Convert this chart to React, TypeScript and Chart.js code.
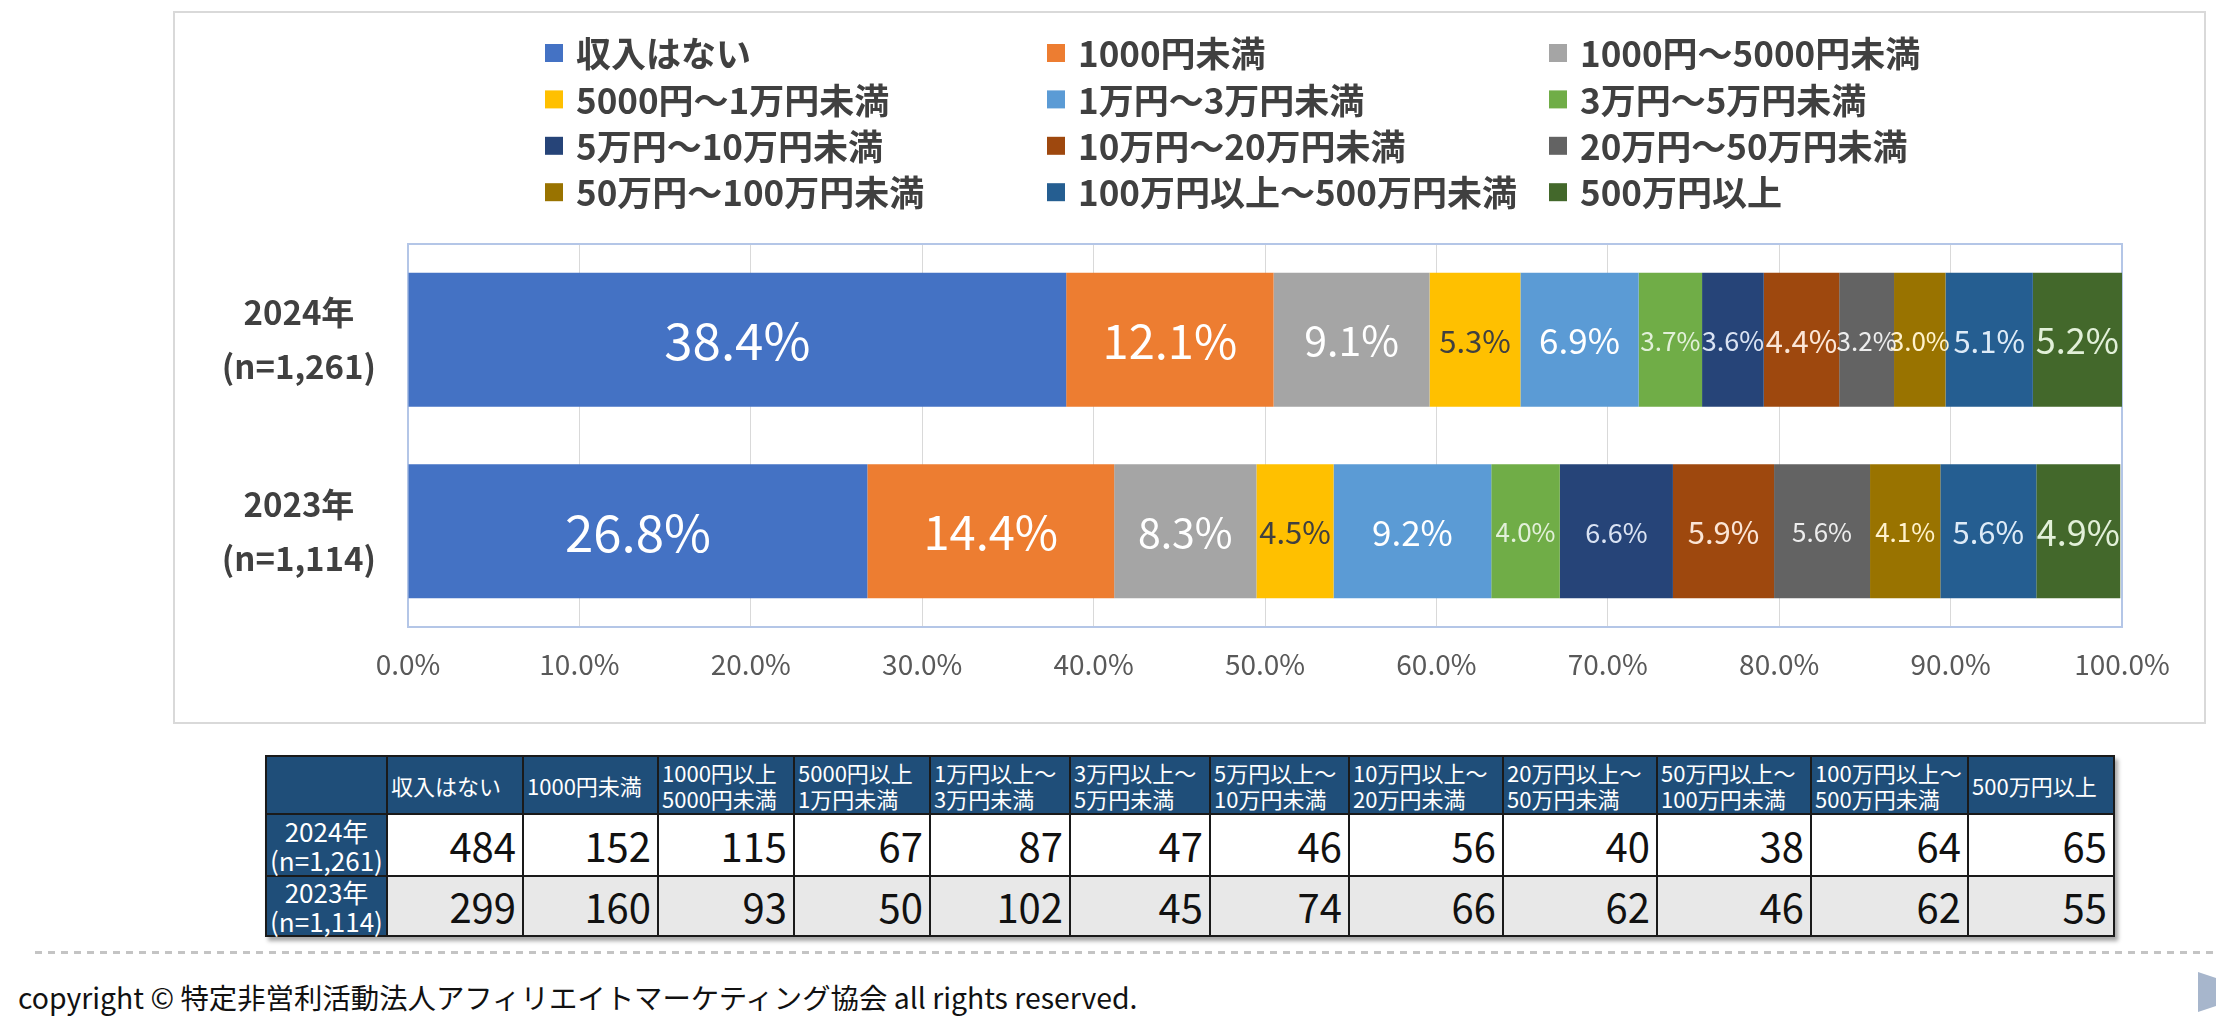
import React, { useEffect, useRef } from 'react';
import { Chart, registerables } from 'chart.js';

Chart.register(...registerables);

// ---------- data ----------
const yearLabels: string[][] = [
  ['2024年', '(n=1,261)'],
  ['2023年', '(n=1,114)'],
];

const seriesNames: string[] = [
  '収入はない',
  '1000円未満',
  '1000円～5000円未満',
  '5000円～1万円未満',
  '1万円～3万円未満',
  '3万円～5万円未満',
  '5万円～10万円未満',
  '10万円～20万円未満',
  '20万円～50万円未満',
  '50万円～100万円未満',
  '100万円以上～500万円未満',
  '500万円以上',
];

const share2024: number[] = [38.4, 12.1, 9.1, 5.3, 6.9, 3.7, 3.6, 4.4, 3.2, 3.0, 5.1, 5.2];
const share2023: number[] = [26.8, 14.4, 8.3, 4.5, 9.2, 4.0, 6.6, 5.9, 5.6, 4.1, 5.6, 4.9];

const xTickValues: number[] = [0, 10, 20, 30, 40, 50, 60, 70, 80, 90, 100];

const tableHeaders: string[][] = [
  ['収入はない'],
  ['1000円未満'],
  ['1000円以上', '5000円未満'],
  ['5000円以上', '1万円未満'],
  ['1万円以上～', '3万円未満'],
  ['3万円以上～', '5万円未満'],
  ['5万円以上～', '10万円未満'],
  ['10万円以上～', '20万円未満'],
  ['20万円以上～', '50万円未満'],
  ['50万円以上～', '100万円未満'],
  ['100万円以上～', '500万円未満'],
  ['500万円以上'],
];
const counts2024: number[] = [484, 152, 115, 67, 87, 47, 46, 56, 40, 38, 64, 65];
const counts2023: number[] = [299, 160, 93, 50, 102, 45, 74, 66, 62, 46, 62, 55];

const copyrightText = 'copyright © 特定非営利活動法人アフィリエイトマーケティング協会 all rights reserved.';

// ---------- styles ----------
const seriesColors: string[] = [
  '#4472C4', '#ED7D31', '#A5A5A5', '#FFC000', '#5B9BD5', '#70AD47',
  '#264478', '#9E480E', '#636363', '#997300', '#255E91', '#43682B',
];
const labelFontSizes: number[] = [51, 47, 41, 31, 35, 26, 27, 31, 26, 26, 31, 36];
const labelColors: string[] = [
  '#FFFFFF', '#FFFFFF', '#FFFFFF', '#404040', '#FFFFFF', '#E2F0D9',
  '#DAE3F3', '#FBE5D6', '#EDEDED', '#FFF2CC', '#DEEBF7', '#E2F0D9',
];
const FONT = "'Noto Sans CJK JP', 'Noto Sans', sans-serif";
const colWidths: number[] = [121, 136, 135, 136, 136, 140, 140, 139, 154, 154, 154, 157, 146];

const CANVAS_W = 2033;
const CANVAS_H = 713;

const decorPlugin = {
  id: 'decor',
  beforeDraw(chart: any) {
    const ctx = chart.ctx;
    ctx.save();
    ctx.fillStyle = '#ffffff';
    ctx.fillRect(0, 0, chart.width, chart.height);
    ctx.strokeStyle = '#d9d9d9';
    ctx.lineWidth = 2;
    ctx.strokeRect(1, 1, chart.width - 2, chart.height - 2);
    ctx.restore();
  },
  beforeDatasetsDraw(chart: any) {
    const { ctx, chartArea } = chart;
    ctx.save();
    ctx.strokeStyle = '#b4c6e7';
    ctx.lineWidth = 2;
    ctx.strokeRect(chartArea.left, chartArea.top, chartArea.right - chartArea.left, chartArea.bottom - chartArea.top);
    ctx.restore();
  },
  afterDatasetsDraw(chart: any) {
    const ctx = chart.ctx;
    ctx.save();
    ctx.textAlign = 'center';
    ctx.textBaseline = 'middle';
    chart.data.datasets.forEach((ds: any, i: number) => {
      const meta = chart.getDatasetMeta(i);
      meta.data.forEach((el: any, j: number) => {
        const v = ds.data[j];
        const p = el.getProps(['x', 'y', 'base'], true);
        ctx.font = `${labelFontSizes[i]}px ${FONT}`;
        ctx.fillStyle = labelColors[i];
        ctx.fillText(`${Number(v).toFixed(1)}%`, (p.x + p.base) / 2, p.y + 1);
      });
    });
    ctx.restore();
  },
  afterDraw(chart: any) {
    const ctx = chart.ctx;
    ctx.save();
    ctx.textAlign = 'left';
    ctx.textBaseline = 'middle';
    ctx.font = `bold 35px ${FONT}`;
    const colX = [372, 874, 1376];
    const rowY0 = 42;
    const rowPitch = 46.4;
    chart.data.datasets.forEach((ds: any, i: number) => {
      const col = i % 3;
      const row = Math.floor(i / 3);
      const x = colX[col];
      const y = rowY0 + row * rowPitch;
      ctx.fillStyle = ds.backgroundColor;
      ctx.fillRect(x, y - 9, 18, 18);
      ctx.fillStyle = '#404040';
      ctx.fillText(ds.label, x + 31, y + 1);
    });
    ctx.restore();
  },
};

function BarChart() {
  const ref = useRef<HTMLCanvasElement | null>(null);
  useEffect(() => {
    if (!ref.current) return;
    const datasets = seriesNames.map((name, i) => ({
      label: name,
      data: [share2024[i], share2023[i]],
      backgroundColor: seriesColors[i],
      borderWidth: 0,
      barPercentage: 0.7,
      categoryPercentage: 1.0,
    }));
    const chart = new Chart(ref.current, {
      type: 'bar',
      data: { labels: yearLabels as any, datasets },
      options: {
        indexAxis: 'y',
        animation: false,
        responsive: false,
        devicePixelRatio: 1,
        layout: { padding: { left: 0, right: 84, top: 233, bottom: 37 } },
        plugins: {
          legend: { display: false },
          tooltip: { enabled: false },
        },
        scales: {
          x: {
            stacked: true,
            min: 0,
            max: 100,
            afterBuildTicks: (scale: any) => {
              scale.ticks = xTickValues.map((v) => ({ value: v }));
            },
            ticks: {
              callback: (v: any) => `${Number(v).toFixed(1)}%`,
              font: { family: FONT, size: 28 },
              color: '#595959',
              padding: 21,
              maxRotation: 0,
              autoSkip: false,
            },
            grid: { color: '#d9d9d9', lineWidth: 1, drawTicks: false },
            border: { display: false },
            afterFit: (scale: any) => {
              scale.height = 60;
            },
          },
          y: {
            stacked: true,
            ticks: {
              crossAlign: 'center',
              font: { family: FONT, size: 33, weight: 'bold', lineHeight: 1.63 },
              color: '#404040',
              padding: 32,
            },
            grid: { display: false, drawTicks: false },
            border: { display: false },
            afterFit: (scale: any) => {
              scale.width = 235;
            },
          },
        },
      } as any,
      plugins: [decorPlugin],
    });
    return () => chart.destroy();
  }, []);
  return (
    <canvas
      ref={ref}
      width={CANVAS_W}
      height={CANVAS_H}
      style={{ display: 'block', width: CANVAS_W, height: CANVAS_H }}
    />
  );
}

const cellBorder = '2px solid #1a1a1a';

function DataTable() {
  const rows = [
    { label: yearLabels[0], values: counts2024, bg: '#ffffff', h: 62 },
    { label: yearLabels[1], values: counts2023, bg: '#e8e8e8', h: 60 },
  ];
  return (
    <table
      style={{
        position: 'absolute',
        left: 265,
        top: 755,
        width: colWidths.reduce((a, b) => a + b, 0),
        borderCollapse: 'collapse',
        tableLayout: 'fixed',
        fontFamily: FONT,
        boxShadow: '3px 4px 4px rgba(0,0,0,0.35)',
      }}
    >
      <colgroup>
        {colWidths.map((w, i) => (
          <col key={i} style={{ width: w }} />
        ))}
      </colgroup>
      <thead>
        <tr style={{ height: 58 }}>
          <th style={{ background: '#1f4e79', border: cellBorder }} />
          {tableHeaders.map((lines, i) => (
            <th
              key={i}
              style={{
                background: '#1f4e79',
                color: '#ffffff',
                border: cellBorder,
                fontSize: 22,
                fontWeight: 'normal',
                lineHeight: '26px',
                textAlign: 'left',
                padding: '0 3px',
                verticalAlign: 'middle',
                whiteSpace: 'nowrap',
                overflow: 'hidden',
              }}
            >
              {lines.map((l, k) => (
                <div key={k}>{l}</div>
              ))}
            </th>
          ))}
        </tr>
      </thead>
      <tbody>
        {rows.map((r, ri) => (
          <tr key={ri} style={{ height: r.h }}>
            <th
              style={{
                background: '#1f4e79',
                color: '#ffffff',
                border: cellBorder,
                fontSize: 26,
                fontWeight: 'normal',
                lineHeight: '29px',
                textAlign: 'center',
                padding: 0,
                whiteSpace: 'nowrap',
              }}
            >
              {r.label.map((l, k) => (
                <div key={k}>{l}</div>
              ))}
            </th>
            {r.values.map((v, i) => (
              <td
                key={i}
                style={{
                  background: r.bg,
                  border: cellBorder,
                  fontSize: 40,
                  lineHeight: 1,
                  textAlign: 'right',
                  padding: '0 6px',
                  color: '#111111',
                  verticalAlign: 'middle',
                }}
              >
                {v}
              </td>
            ))}
          </tr>
        ))}
      </tbody>
    </table>
  );
}

export default function App() {
  return (
    <div
      style={{
        position: 'absolute',
        left: 0,
        top: 0,
        width: 2216,
        height: 1020,
        overflow: 'hidden',
        background: '#ffffff',
        fontFamily: FONT,
      }}
    >
      <div style={{ position: 'absolute', left: 173, top: 11, width: CANVAS_W, height: CANVAS_H }}>
        <BarChart />
      </div>
      <DataTable />
      <div
        style={{
          position: 'absolute',
          left: 35,
          top: 951,
          width: 2181,
          height: 3,
          background: 'repeating-linear-gradient(to right, #c4c4c4 0px, #c4c4c4 7px, transparent 7px, transparent 13px)',
        }}
      />
      <div
        style={{
          position: 'absolute',
          left: 18,
          top: 979,
          fontSize: 28.4,
          lineHeight: '36px',
          color: '#111111',
          whiteSpace: 'nowrap',
        }}
      >
        {copyrightText}
      </div>
      <div
        style={{
          position: 'absolute',
          left: 2198,
          top: 972,
          width: 0,
          height: 0,
          borderLeft: '60px solid #a7b6cc',
          borderTop: '20px solid transparent',
          borderBottom: '20px solid transparent',
        }}
      />
    </div>
  );
}
